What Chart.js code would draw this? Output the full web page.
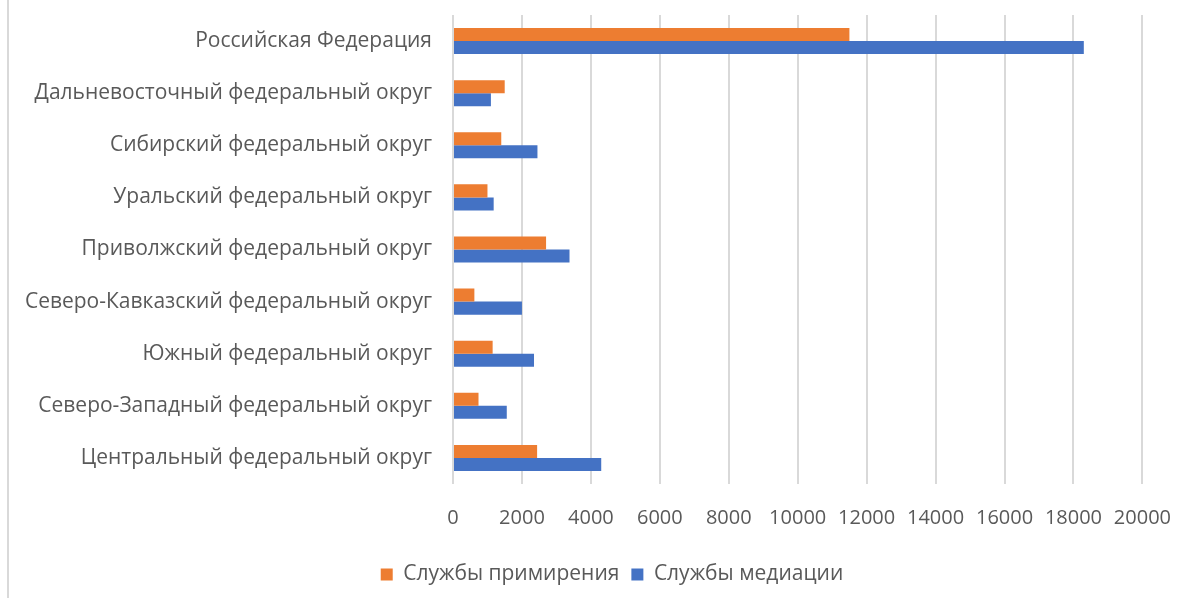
<!DOCTYPE html>
<html>
<head>
<meta charset="utf-8">
<script src="https://cdn.jsdelivr.net/npm/chart.js@4"></script>
<style>
  body { margin: 0; background: #fff; }
  #wrap { position: relative; width: 1193px; height: 598px; }
  #frame { position: absolute; left: 7px; top: 0; width: 0; height: 598px; border-left: 2px solid #d9d9d9; }
  canvas { position: absolute; left: 0; top: 0; }
</style>
</head>
<body>
<div id="wrap">
  <div id="frame"></div>
  <canvas id="chart" width="1193" height="598"></canvas>
</div>
<script>
var regions = [
    'Российская Федерация',
    'Дальневосточный федеральный округ',
    'Сибирский федеральный округ',
    'Уральский федеральный округ',
    'Приволжский федеральный округ',
    'Северо-Кавказский федеральный округ',
    'Южный федеральный округ',
    'Северо-Западный федеральный округ',
    'Центральный федеральный округ'
];
var reconciliation = [11500, 1500, 1400, 1000, 2700, 620, 1150, 740, 2440];
var mediation = [18300, 1100, 2450, 1180, 3380, 2000, 2350, 1560, 4300];
var xTicks = [0, 2000, 4000, 6000, 8000, 10000, 12000, 14000, 16000, 18000, 20000];

var textColor = '#595959';
var fontFamily = '"Open Sans", "Noto Sans", sans-serif';

// legend sits a bit right of the canvas centre in the original
var legendShift = {
    id: 'legendShift',
    afterLayout: function (chart) {
        chart.legend.left += 40;
        chart.legend.right += 40;
    }
};

window.InitializeChart = function () {
    var ctx = document.getElementById('chart').getContext('2d');
    return new Chart(ctx, {
        type: 'bar',
        data: {
            labels: regions,
            datasets: [{
                label: 'Службы примирения',
                backgroundColor: '#ED7D31',
                data: reconciliation
            },
            {
                label: 'Службы медиации',
                backgroundColor: '#4472C4',
                data: mediation
            }]
        },
        options: {
            indexAxis: 'y',
            responsive: false,
            animation: false,
            devicePixelRatio: 1,
            layout: { padding: { left: 0, right: 49, top: 15, bottom: 3 } },
            datasets: { bar: { barPercentage: 1, categoryPercentage: 0.5 } },
            scales: {
                x: {
                    min: 0,
                    max: 20000,
                    afterBuildTicks: function (scale) {
                        scale.ticks = xTicks.map(function (v) { return { value: v }; });
                    },
                    grid: { color: '#d9d9d9', lineWidth: 2, drawTicks: false },
                    border: { display: false },
                    ticks: {
                        color: textColor,
                        font: { family: fontFamily, size: 20 },
                        padding: 22,
                        maxRotation: 0,
                        callback: function (v) { return String(v); }
                    }
                },
                y: {
                    grid: { display: false, drawTicks: false },
                    border: { display: false },
                    afterFit: function (scale) {
                        scale.width = 453;
                        scale.paddingTop = 0;
                        scale.paddingBottom = 0;
                    },
                    ticks: { color: textColor, font: { family: fontFamily, size: 21 }, padding: 21 }
                }
            },
            plugins: {
                legend: {
                    position: 'bottom',
                    labels: {
                        color: textColor,
                        font: { family: fontFamily, size: 21 },
                        boxWidth: 12,
                        boxHeight: 12,
                        padding: 12
                    }
                },
                tooltip: { enabled: false }
            }
        },
        plugins: [legendShift]
    });
};

window.InitializeChart();
</script>
</body>
</html>
